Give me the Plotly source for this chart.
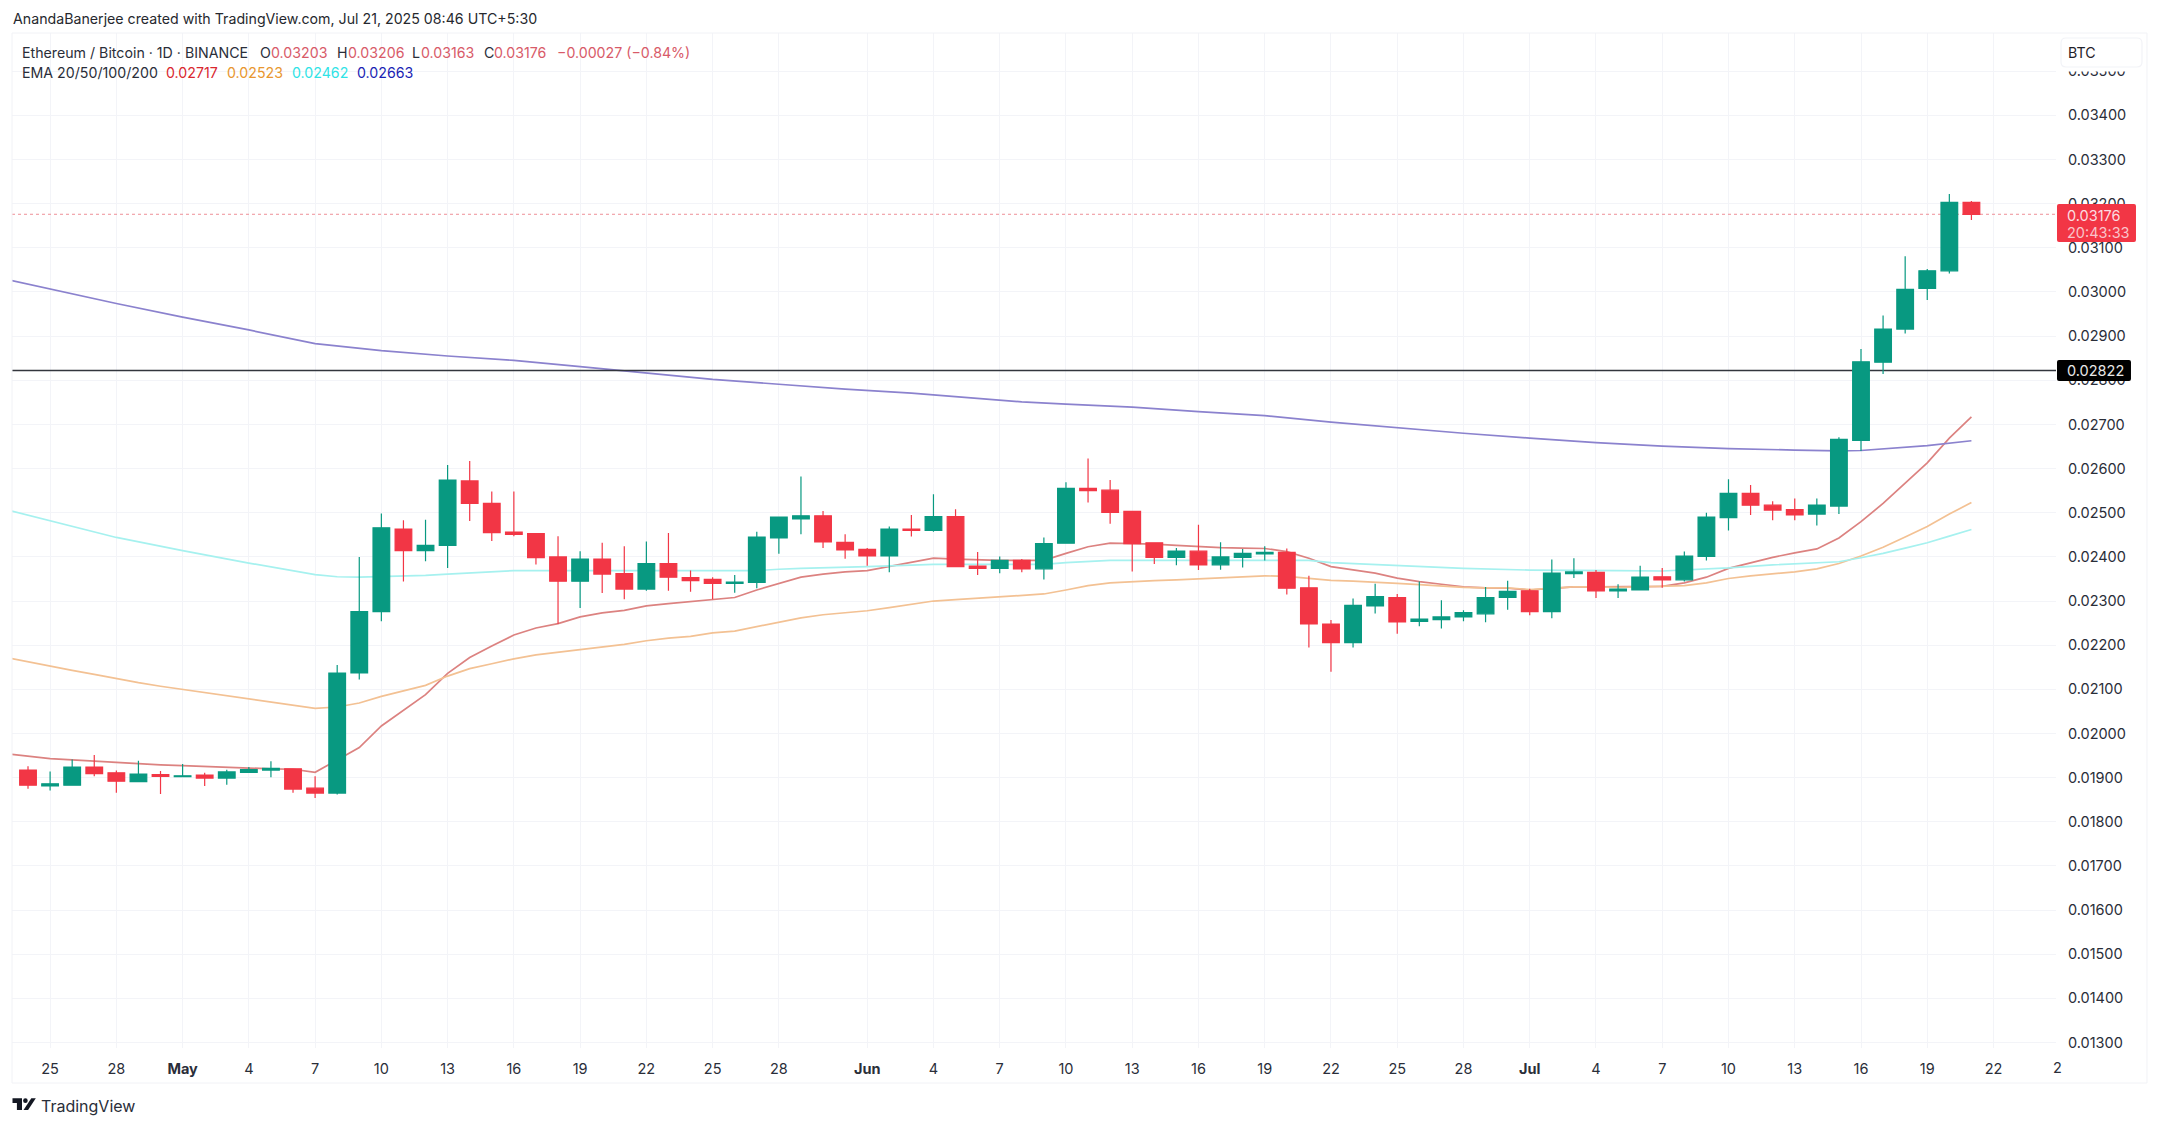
import numpy as np
import pandas as pd
import plotly.graph_objects as go

# ---------- data (prices in units of 0.00001 BTC) ----------
first_day = "2025-04-24"
opens_e5 = [1917,1881,1883,1924,1911,1891,1907,1902,1906,1899,1912,1917,1920,1876,1865,2137,2276,2463,2414,2426,2572,2521,2456,2453,2400,2345,2395,2362,2327,2385,2353,2349,2340,2342,2443,2486,2493,2433,2417,2402,2463,2460,2491,2379,2374,2392,2373,2431,2555,2551,2503,2432,2399,2413,2382,2399,2407,2410,2330,2248,2206,2289,2308,2254,2258,2264,2271,2308,2323,2276,2362,2365,2323,2325,2355,2348,2401,2489,2544,2517,2507,2497,2515,2664,2841,2916,3008,3048,3203]
highs_e5 = [1926,1914,1941,1951,1916,1938,1915,1931,1911,1918,1924,1937,1921,1903,2155,2400,2498,2483,2484,2608,2617,2548,2548,2453,2447,2413,2432,2424,2435,2454,2369,2354,2359,2457,2491,2582,2504,2451,2420,2469,2495,2542,2508,2411,2401,2395,2444,2569,2623,2574,2503,2432,2420,2473,2433,2418,2424,2419,2357,2257,2306,2339,2316,2344,2302,2279,2332,2346,2328,2394,2397,2370,2338,2380,2375,2412,2500,2576,2563,2526,2532,2532,2671,2871,2947,3081,3052,3222,3206]
lows_e5 = [1875,1871,1883,1903,1866,1890,1863,1901,1881,1884,1911,1901,1866,1854,1862,2122,2254,2344,2390,2375,2481,2436,2447,2383,2248,2284,2318,2304,2323,2323,2321,2304,2319,2329,2407,2451,2420,2396,2380,2365,2446,2457,2378,2359,2363,2365,2349,2431,2523,2475,2367,2384,2381,2370,2371,2376,2392,2315,2195,2140,2195,2272,2226,2243,2238,2254,2252,2280,2268,2261,2352,2307,2307,2324,2330,2344,2392,2460,2495,2483,2483,2471,2497,2640,2814,2906,2982,3042,3163]
closes_e5 = [1883,1886,1924,1909,1892,1908,1903,1904,1899,1913,1918,1921,1874,1865,2137,2276,2466,2414,2426,2574,2521,2455,2451,2398,2345,2395,2361,2327,2385,2354,2346,2340,2343,2445,2490,2493,2434,2416,2402,2463,2460,2491,2378,2374,2392,2373,2430,2555,2550,2501,2430,2399,2413,2382,2400,2408,2410,2329,2248,2206,2290,2310,2253,2259,2264,2274,2308,2322,2276,2363,2366,2323,2327,2354,2348,2402,2490,2544,2517,2506,2495,2517,2666,2842,2916,3006,3048,3203,3176]

ema_first_day = "2025-04-23"
ema20_e5 = [1954,1948,1943,1940,1937,1934,1931,1929,1927,1925,1923,1922,1920,1919,1912,1940,1968,2017,2053,2088,2136,2172,2198,2223,2239,2249,2264,2273,2279,2289,2294,2299,2303,2308,2325,2340,2354,2361,2366,2369,2378,2388,2397,2395,2393,2392,2392,2392,2408,2423,2431,2430,2429,2426,2423,2421,2420,2419,2412,2397,2378,2371,2363,2352,2344,2338,2332,2330,2329,2325,2329,2332,2332,2332,2332,2333,2341,2354,2374,2387,2399,2409,2418,2443,2480,2521,2567,2613,2669,2717]
ema50_e5 = [2172,2162,2152,2143,2134,2124,2115,2107,2100,2092,2085,2078,2071,2064,2057,2060,2069,2084,2096,2109,2130,2147,2158,2169,2178,2184,2191,2197,2202,2210,2216,2220,2228,2232,2242,2253,2262,2269,2273,2278,2285,2293,2300,2303,2306,2309,2312,2316,2325,2335,2341,2344,2346,2348,2350,2352,2354,2357,2356,2351,2347,2345,2343,2340,2337,2334,2331,2330,2330,2326,2329,2332,2332,2331,2332,2333,2335,2341,2351,2357,2362,2366,2373,2385,2402,2422,2445,2469,2497,2523]

ema100_dates = ["2025-04-23","2025-04-25","2025-04-28","2025-05-01","2025-05-04","2025-05-07","2025-05-08","2025-05-09","2025-05-10","2025-05-12","2025-05-13","2025-05-15","2025-05-16","2025-05-18","2025-05-25","2025-05-27","2025-05-28","2025-05-29","2025-06-01","2025-06-04","2025-06-06","2025-06-09","2025-06-10","2025-06-12","2025-06-15","2025-06-19","2025-06-21","2025-06-22","2025-06-24","2025-06-26","2025-06-28","2025-07-01","2025-07-03","2025-07-05","2025-07-07","2025-07-09","2025-07-10","2025-07-12","2025-07-14","2025-07-15","2025-07-16","2025-07-17","2025-07-18","2025-07-19","2025-07-20","2025-07-21"]
ema100_e5 = [2507,2482,2444,2414,2386,2360,2355,2354,2355,2358,2361,2367,2369,2369,2368,2369,2372,2374,2378,2383,2383,2383,2387,2392,2392,2393,2392,2387,2383,2378,2374,2370,2370,2369,2368,2372,2375,2382,2387,2389,2398,2408,2420,2432,2447,2462]

ema200_dates = ["2025-04-23","2025-04-25","2025-04-28","2025-05-01","2025-05-04","2025-05-07","2025-05-10","2025-05-13","2025-05-16","2025-05-19","2025-05-22","2025-05-25","2025-05-28","2025-05-31","2025-06-03","2025-06-06","2025-06-08","2025-06-10","2025-06-13","2025-06-16","2025-06-19","2025-06-22","2025-06-25","2025-06-28","2025-07-01","2025-07-04","2025-07-07","2025-07-10","2025-07-13","2025-07-15","2025-07-16","2025-07-19","2025-07-21"]
ema200_e5 = [3029,3007,2974,2943,2914,2883,2867,2855,2845,2831,2817,2802,2791,2780,2771,2760,2751,2746,2739,2729,2720,2705,2692,2680,2669,2659,2651,2645,2642,2640,2641,2652,2663]

last_price = 0.03176
marked_level = 0.02822

x_tick_dates = ["2025-04-25","2025-04-28","2025-05-01","2025-05-04","2025-05-07","2025-05-10","2025-05-13","2025-05-16","2025-05-19","2025-05-22","2025-05-25","2025-05-28","2025-06-01","2025-06-04","2025-06-07","2025-06-10","2025-06-13","2025-06-16","2025-06-19","2025-06-22","2025-06-25","2025-06-28","2025-07-01","2025-07-04","2025-07-07","2025-07-10","2025-07-13","2025-07-16","2025-07-19","2025-07-22"]
x_tick_labels = ["25","28","<b>May</b>","4","7","10","13","16","19","22","25","28","<b>Jun</b>","4","7","10","13","16","19","22","25","28","<b>Jul</b>","4","7","10","13","16","19","22"]
y_tick_values = [round(0.013 + 0.001 * i, 3) for i in range(23)]

# ---------- layout geometry (pixels of the 2159x1126 page) ----------
W, H = 2159, 1126
L, R, T, B = 11.5, 2056, 33, 1048
x_range = ["2025-04-23 06:36", "2025-07-24 19:55"]
y_range = [0.012876, 0.035866]
FONT = "Inter, 'Liberation Sans', sans-serif"
INK = "#2a2e39"
GRID = "#f3f4f8"
UP, DOWN = "#089981", "#f23645"

def px(x):
    return (x - L) / (R - L)

def py(y):
    return 1 - (y - T) / (B - T)

dates = pd.date_range(first_day, periods=len(opens_e5), freq="D")
ema_dates = pd.date_range(ema_first_day, periods=len(ema20_e5), freq="D")
to_price = lambda v: np.array(v) / 1e5

fig = go.Figure()
for xs, ys, col in [
    (ema_dates, ema20_e5, "#dc8280"),
    (ema_dates, ema50_e5, "#f3c193"),
    (ema100_dates, ema100_e5, "#a6f1ef"),
    (ema200_dates, ema200_e5, "#8b82ce"),
]:
    fig.add_trace(go.Scatter(x=xs, y=to_price(ys), mode="lines",
                             line=dict(color=col, width=1.7), hoverinfo="skip"))
fig.add_trace(go.Scatter(x=x_range, y=[marked_level] * 2, mode="lines",
                         line=dict(color="#33363d", width=1.4), hoverinfo="skip"))
fig.add_trace(go.Scatter(x=x_range, y=[last_price] * 2, mode="lines",
                         line=dict(color="#ee8f98", width=1, dash="dot"), hoverinfo="skip"))
fig.add_trace(go.Candlestick(
    x=dates, open=to_price(opens_e5), high=to_price(highs_e5),
    low=to_price(lows_e5), close=to_price(closes_e5), yaxis="y2",
    increasing=dict(line=dict(color=UP, width=1.2), fillcolor=UP),
    decreasing=dict(line=dict(color=DOWN, width=1.2), fillcolor=DOWN),
    whiskerwidth=0,
))

def note(x, y, text, color=INK, size=14.2, anchor="left"):
    return dict(xref="paper", yref="paper", x=px(x), y=py(y), text=text, showarrow=False,
                xanchor=anchor, yanchor="middle", align="left", borderpad=0,
                font=dict(family=FONT, size=size, color=color))

RED_TXT = "#d85a68"
annotations = [
    note(11.4, 19, "AnandaBanerjee created with TradingView.com, Jul 21, 2025 08:46 UTC+5:30", "#26282e"),
    note(20.6, 52, "Ethereum / Bitcoin · 1D · BINANCE"),
    note(259, 52, "O"), note(270, 52, "0.03203", RED_TXT),
    note(335.5, 52, "H"), note(346.6, 52, "0.03206", RED_TXT),
    note(411, 52, "L"), note(419.6, 52, "0.03163", RED_TXT),
    note(483, 52, "C"), note(493, 52, "0.03176", RED_TXT),
    note(555.5, 52, "−0.00027 (−0.84%)", RED_TXT),
    note(20.6, 73, "EMA 20/50/100/200"),
    note(165, 73, "0.02717", "#d9262e"),
    note(226, 73, "0.02523", "#e8962e"),
    note(291, 73, "0.02462", "#2fe3e6"),
    note(356, 73, "0.02663", "#1a1fb4"),
    note(2067, 53, "BTC", "#1f2128"),
    note(2066, 215, "0.03176", "#fbdde0", size=14.5),
    note(2066, 232, "20:43:33", "#f9c4ca", size=14.5),
    note(2066, 370.5, "0.02822", "#e8e8e8", size=14.5),
    note(2052, 1067, "2", INK, size=14.5),
    note(39.5, 1105.5, "TradingView", "#2a2e39", size=16),
]

def rect(x0, y0, x1, y1, fill, line="rgba(0,0,0,0)", width=0, radius=0):
    r = radius
    pts = (f"M{px(x0 + r)},{py(y0)} L{px(x1 - r)},{py(y0)} Q{px(x1)},{py(y0)} {px(x1)},{py(y0 + r)} "
           f"L{px(x1)},{py(y1 - r)} Q{px(x1)},{py(y1)} {px(x1 - r)},{py(y1)} "
           f"L{px(x0 + r)},{py(y1)} Q{px(x0)},{py(y1)} {px(x0)},{py(y1 - r)} "
           f"L{px(x0)},{py(y0 + r)} Q{px(x0)},{py(y0)} {px(x0 + r)},{py(y0)} Z")
    return dict(type="path", xref="paper", yref="paper", path=pts, fillcolor=fill,
                line=dict(color=line, width=width), layer="above")

def poly(points, fill):
    p = "M" + " L".join(f"{px(a)},{py(b)}" for a, b in points) + " Z"
    return dict(type="path", xref="paper", yref="paper", path=p, fillcolor=fill,
                line=dict(width=0), layer="above")

shapes = [
    rect(L, T, 2147, 1083, "rgba(0,0,0,0)", "#f1f2f6", 1),
    rect(2058, 60, 2146, 71.5, "#ffffff"),
    rect(2061, 38, 2142, 67, "#ffffff", "#f2f3f7", 1.2, 5),
    rect(2057, 204, 2136, 242, DOWN, radius=2),
    rect(2057, 360, 2131, 381, "#000000", radius=2),
    # TradingView mark
    poly([(12, 1098.3), (21.5, 1098.3), (21.5, 1110), (16.4, 1110), (16.4, 1103), (12, 1103)], "#131722"),
    poly([(30.8, 1098.3), (35.3, 1098.3), (27.6, 1110), (23, 1110)], "#131722"),
    dict(type="circle", xref="paper", yref="paper", x0=px(22.6), x1=px(27.2), y0=py(1103), y1=py(1098.3),
         fillcolor="#131722", line=dict(width=0), layer="above"),
]

fig.update_layout(
    width=W, height=H, autosize=False,
    margin=dict(l=L, r=W - R, t=T, b=H - B, pad=0),
    paper_bgcolor="#ffffff", plot_bgcolor="#ffffff",
    showlegend=False, boxgap=0.245, boxgroupgap=0, hovermode=False,
    font=dict(family=FONT, size=14.5, color=INK),
    xaxis=dict(type="date", range=x_range, tickmode="array", tickvals=x_tick_dates,
               ticktext=x_tick_labels, showgrid=True, gridcolor=GRID, gridwidth=1,
               ticks="outside", ticklen=8, tickcolor="rgba(0,0,0,0)", showline=False,
               zeroline=False, rangeslider=dict(visible=False), tickangle=0,
               tickfont=dict(family=FONT, size=14.5, color=INK)),
    yaxis=dict(range=y_range, side="right", tickmode="array", tickvals=y_tick_values,
               tickformat=".5f", showgrid=True, gridcolor=GRID, gridwidth=1,
               ticks="outside", ticklen=8, tickcolor="rgba(0,0,0,0)", showline=False,
               zeroline=False, tickfont=dict(family=FONT, size=14.5, color=INK)),
    yaxis2=dict(range=y_range, overlaying="y", side="right", visible=False),
    annotations=annotations, shapes=shapes,
)

fig.write_html("out.html", config=dict(displayModeBar=False),
               post_script="document.body.style.margin='0';document.body.style.overflow='hidden';")
